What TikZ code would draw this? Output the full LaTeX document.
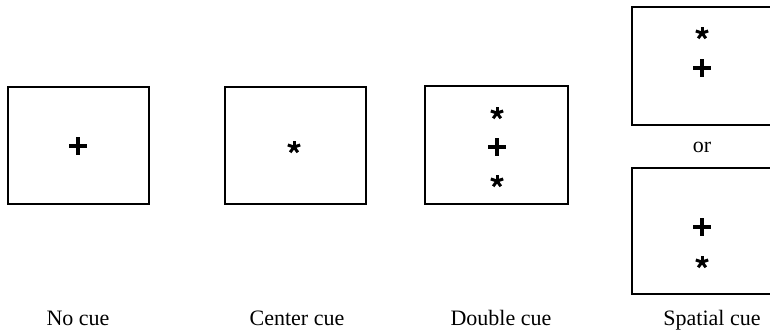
\documentclass[tikz,border=0pt]{standalone}
\usepackage{fontspec}
\setmainfont{Liberation Serif}
\begin{document}
\begin{tikzpicture}[x=1pt,y=-1pt,
  screen/.style={draw=black,line width=1.4pt,fill=white},
  lab/.style={font=\fontsize{22}{26}\selectfont,inner sep=0pt,anchor=base},
  pluscue/.pic={\draw[line width=3.6pt] (-9,0) -- (9,0) (0,-9) -- (0,9);},
  starcue/.pic={\foreach \a in {90,162,234,306,18} \draw[line width=3pt] (0,0) -- (\a:-6.5);}
]
\useasboundingbox (0,0) rectangle (770,333);
\clip (0,0) rectangle (770,333);
\draw[screen] (8,87) rectangle (149,204);
\draw[screen] (225,87) rectangle (366,204);
\draw[screen] (425,86) rectangle (568,204);
\draw[screen] (632,7) rectangle (780,125);
\draw[screen] (632,168) rectangle (780,294);
\pic at (78,146) {pluscue};
\pic at (294,147) {starcue};
\pic at (497,113) {starcue};
\pic at (497,147) {pluscue};
\pic at (497,181) {starcue};
\pic at (702,33) {starcue};
\pic at (702,68) {pluscue};
\pic at (702,227) {pluscue};
\pic at (702,262) {starcue};
\node[lab] (or) at (702,152) {or};
\node[lab] (l1) at (78,325) {No cue};
\node[lab] (l2) at (297,325) {Center cue};
\node[lab] (l3) at (501,325) {Double cue};
\node[lab] (l4) at (712,325) {Spatial cue};
\end{tikzpicture}
\end{document}
